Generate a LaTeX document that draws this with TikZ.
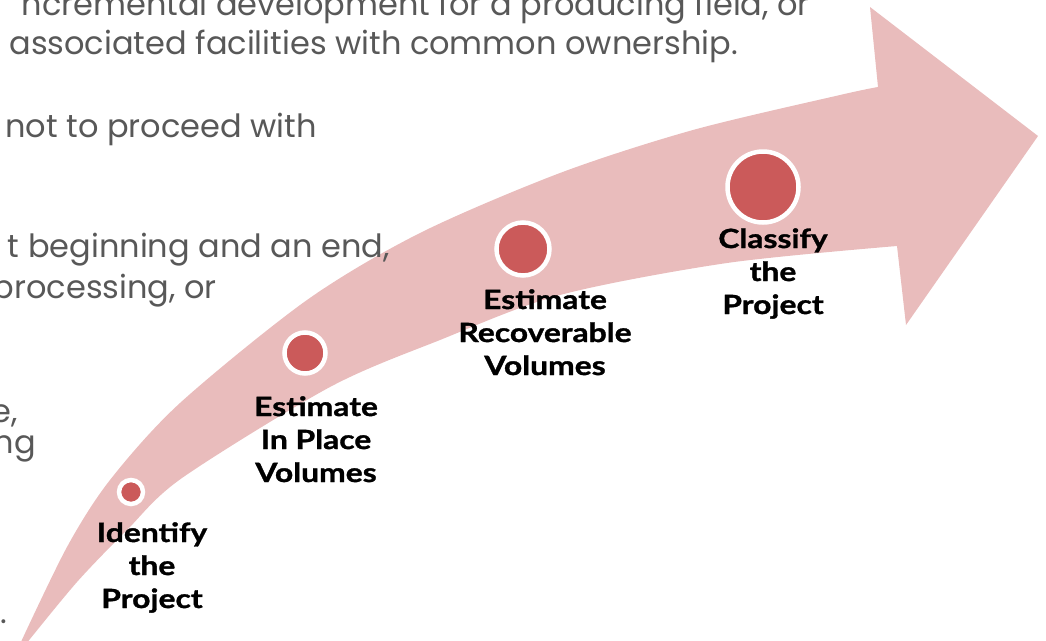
\documentclass[tikz,border=0pt]{standalone}
\usepackage{fontspec}
\newfontfamily\bgfont{Poppins}
\newfontfamily\lblfont{Lato}[FakeStretch=1.2, BoldFeatures={FakeBold=1.2}]
\definecolor{arrowpink}{RGB}{233,188,188}
\definecolor{dotred}{RGB}{203,90,90}
\definecolor{bggray}{RGB}{88,88,88}
\tikzset{
  bgtext/.style={font={\bgfont\fontsize{32}{39}\selectfont}, text=bggray, anchor=base east, inner sep=0pt},
  lbl/.style={font={\lblfont\bfseries\fontsize{26.5}{33}\selectfont}, text=black, align=center, anchor=base, inner sep=0pt},
  dot/.style={circle, fill=dotred, draw=white, line width=4.5pt, inner sep=0pt},
}
\begin{document}
\begin{tikzpicture}[x=1pt,y=-1pt]
\useasboundingbox (0,0) rectangle (1046,640);
\begin{scope}
\clip (0,0) rectangle (1046,640);
\fill[arrowpink]
  plot[smooth] coordinates {(20,644) (67,547) (110,480) (180,403) (307,300) (420,233) (560,173) (693,130) (840,95) (878,87)}
  -- (870,7) -- (1038,136) -- (906,325) -- (897,246)
  -- plot[smooth] coordinates {(897,246) (727,263) (560,295) (440,340) (330,387) (182,478) (127,530) (77,582) (26,644)}
  -- cycle;
\node[bgtext] (t1) at (810,15) {ncremental development for a producing field, or};
\node[bgtext] (t2) at (738,54) {associated facilities with common ownership.};
\node[bgtext] (t3) at (317,137) {not to proceed with};
\node[bgtext] (t4) at (390,257) {t beginning and an end,};
\node[bgtext] (t5) at (217,298) {processing, or};
\node[bgtext] (t6) at (18,422) {e,};
\node[bgtext] (t7) at (36,453) {ng};
\node[bgtext] (t8) at (7,623) {.};
\end{scope}
\node[dot, minimum size=24pt] (d1) at (131,492) {};
\node[dot, minimum size=41pt] (d2) at (305,353) {};
\node[dot, minimum size=53pt] (d3) at (523,249) {};
\node[dot, minimum size=71pt] (d4) at (763,187) {};
\node[lbl] (l1) at (152,608) {Identify\\the\\Project};
\node[lbl] (l2) at (316,482) {Estimate\\In Place\\Volumes};
\node[lbl] (l3) at (545,375) {Estimate\\Recoverable\\Volumes};
\node[lbl] (l4) at (773,314) {Classify\\the\\Project};
\end{tikzpicture}
\end{document}
